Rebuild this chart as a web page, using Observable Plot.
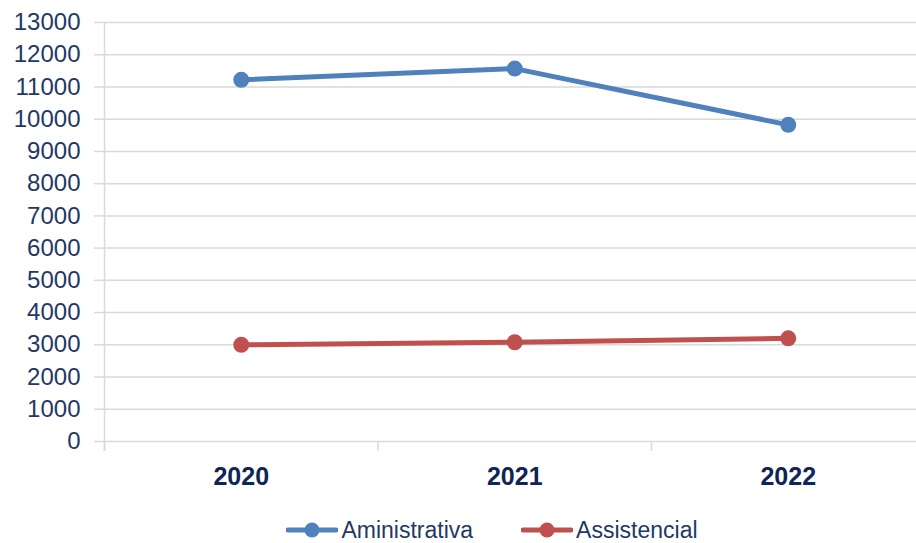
<!DOCTYPE html>
<html>
<head>
<meta charset="utf-8">
<script src="https://cdn.jsdelivr.net/npm/d3@7"></script>
<script src="https://cdn.jsdelivr.net/npm/@observablehq/plot@0.6"></script>
<style>
  html, body { margin: 0; padding: 0; background: #fff; }
  body { width: 916px; height: 543px; overflow: hidden; font-family: "Liberation Sans", Arial, sans-serif; }
  #legend { display: flex; justify-content: center; align-items: center; gap: 48px; height: 26px; padding-top: 17px; margin-left: 68px; }
  .item { display: flex; align-items: center; font-size: 23px; color: #1f3864; }
  .item svg { margin-right: 3px; }
</style>
</head>
<body>
<div id="chart"></div>
<div id="legend"></div>
<script>
const years = [2020, 2021, 2022];
const seriesNames = ["Aministrativa", "Assistencial"];
const aministrativa = [11220, 11570, 9825];
const assistencial = [3000, 3080, 3200];
const yTicks = [0,1000,2000,3000,4000,5000,6000,7000,8000,9000,10000,11000,12000,13000];
const categoryEdges = [2019.5, 2020.5, 2021.5, 2022.5];
const colors = ["#4f81bd", "#c0504d"];

const data = [];
years.forEach((y, i) => {
  data.push({year: y, value: aministrativa[i], series: seriesNames[0]});
  data.push({year: y, value: assistencial[i], series: seriesNames[1]});
});

const chart = Plot.plot({
  width: 916,
  height: 500,
  marginLeft: 104,
  marginRight: 0,
  marginTop: 22,
  marginBottom: 59,
  style: {background: "#fff", fontFamily: "Liberation Sans, Arial, sans-serif"},
  x: {type: "linear", domain: [2019.5, 2022.5], range: [104, 924.5]},
  y: {domain: [0, 13000], range: [441, 22]},
  color: {domain: seriesNames, range: colors},
  marks: [
    Plot.gridY(yTicks, {stroke: "#d9d9d9", strokeOpacity: 1, strokeWidth: 1.5}),
    Plot.axisY(yTicks, {tickSize: 10, tickPadding: 14, stroke: "#d9d9d9", strokeWidth: 1.5, fill: "#1f3864", fontSize: 24, tickFormat: d => String(d), label: null}),
    Plot.ruleX([categoryEdges[0]], {stroke: "#d9d9d9", strokeWidth: 1.5, insetBottom: -10}),
    Plot.axisX(categoryEdges, {tickSize: 10, stroke: "#d9d9d9", strokeWidth: 1.5, tickFormat: () => "", label: null}),
    Plot.axisX(years, {tickSize: 0, tickPadding: 26, fill: "#0f2557", fontSize: 25, fontWeight: "bold", tickFormat: d => String(d), label: null}),
    Plot.line(data, {x: "year", y: "value", stroke: "series", strokeWidth: 5, z: "series"}),
    Plot.dot(data, {x: "year", y: "value", fill: "series", r: 8})
  ]
});
document.getElementById("chart").appendChild(chart);

const legend = document.getElementById("legend");
seriesNames.forEach((name, i) => {
  const item = document.createElement("div");
  item.className = "item";
  item.innerHTML = `<svg width="52" height="20"><line x1="2" y1="10" x2="50" y2="10" stroke="${colors[i]}" stroke-width="5" stroke-linecap="round"/><circle cx="26" cy="10" r="7.5" fill="${colors[i]}"/></svg><span>${name}</span>`;
  legend.appendChild(item);
});
</script>
</body>
</html>
